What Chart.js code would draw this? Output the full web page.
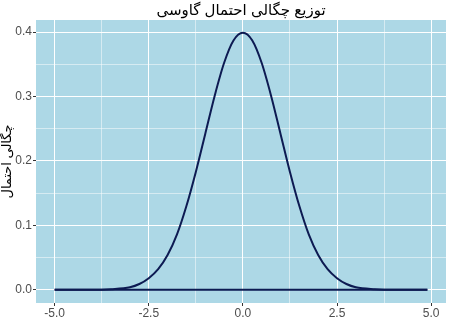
<!DOCTYPE html>
<html>
<head>
<meta charset="utf-8">
<script src="https://cdn.jsdelivr.net/npm/chart.js@4/dist/chart.umd.min.js"></script>
<style>
  html, body { margin: 0; padding: 0; background: #ffffff; }
  #wrap { width: 450px; height: 320px; }
</style>
</head>
<body>
<div id="wrap"><canvas id="myChart" width="450" height="320"></canvas></div>
<script>
// values
const xValues = [-5, -4, -3.5, -3, -2.75, -2.5, -2.25, -2, -1.75, -1.5, -1.25, -1, -0.75, -0.5, -0.25,
  0, 0.25, 0.5, 0.75, 1, 1.25, 1.5, 1.75, 2, 2.25, 2.5, 2.75, 3, 3.5, 4, 4.9];
const densityValues = [0.000, 0.000, 0.001, 0.004, 0.009, 0.018, 0.032, 0.054, 0.086, 0.130, 0.183, 0.242, 0.301, 0.352, 0.387,
  0.399, 0.387, 0.352, 0.301, 0.242, 0.183, 0.130, 0.086, 0.054, 0.032, 0.018, 0.009, 0.004, 0.001, 0.000, 0.000];
// the closing bottom edge of the polygon
const baseX = [-5, 4.9];
const baseY = [0, 0];

const xTicks = [-5, -2.5, 0, 2.5, 5];
const xMinorTicks = [-3.75, -1.25, 1.25, 3.75];
const yTicks = [0, 0.1, 0.2, 0.3, 0.4];
const yMinorTicks = [0.05, 0.15, 0.25, 0.35];

const titleText = "توزیع چگالی احتمال گاوسی";
const yTitleText = "چگالی احتمال";

const lineColor = "#0d1a52";
const fontFamily = "'Liberation Sans', 'DejaVu Sans', Arial, sans-serif";

// panel background like ggplot
const panelBg = {
  id: "panelBg",
  beforeDraw(chart) {
    const { ctx, chartArea } = chart;
    ctx.save();
    ctx.fillStyle = "#add8e6";
    ctx.fillRect(chartArea.left, chartArea.top, chartArea.right - chartArea.left, chartArea.bottom - chartArea.top);
    ctx.restore();
  }
};

function buildTicks(major, minor) {
  return (scale) => {
    const all = major.concat(minor).sort((a, b) => a - b);
    scale.ticks = all.map((v) => ({ value: v, major: major.includes(v) }));
  };
}

function isMajor(ctx, major) {
  return ctx.tick && major.includes(ctx.tick.value);
}

const ctx = document.getElementById("myChart").getContext("2d");
new Chart(ctx, {
  type: "line",
  data: {
    datasets: [
      {
        label: "density",
        data: xValues.map((x, i) => ({ x: x, y: densityValues[i] })),
        borderColor: lineColor,
        borderWidth: 2,
        pointRadius: 0,
        cubicInterpolationMode: "monotone",
        fill: false,
      },
      {
        label: "base",
        data: baseX.map((x, i) => ({ x: x, y: baseY[i] })),
        borderColor: lineColor,
        borderWidth: 2,
        pointRadius: 0,
        fill: false,
      },
    ],
  },
  options: {
    responsive: false,
    animation: false,
    layout: { padding: { top: 0, right: 4, bottom: 0, left: 0 } },
    plugins: {
      legend: { display: false },
      tooltip: { enabled: false },
      title: {
        display: true,
        text: titleText,
        fullSize: false,
        color: "#000000",
        font: { family: fontFamily, size: 15, weight: "normal" },
        padding: { top: 2, bottom: 0 },
      },
    },
    scales: {
      x: {
        type: "linear",
        min: -5.495,
        max: 5.395,
        afterBuildTicks: buildTicks(xTicks, xMinorTicks),
        afterFit: (scale) => { scale.height = 17; },
        border: { display: false },
        grid: {
          color: "#ffffff",
          lineWidth: (c) => (isMajor(c, xTicks) ? 1 : 0.5),
          tickLength: 3,
          tickColor: (c) => (isMajor(c, xTicks) ? "#333333" : "rgba(0,0,0,0)"),
        },
        ticks: {
          autoSkip: false,
          maxRotation: 0,
          padding: 0,
          color: "#4d4d4d",
          font: { family: fontFamily, size: 12 },
          callback: (v) => (xTicks.includes(v) ? v.toFixed(1) : ""),
        },
      },
      y: {
        type: "linear",
        min: -0.0205,
        max: 0.4188,
        afterBuildTicks: buildTicks(yTicks, yMinorTicks),
        afterFit: (scale) => { scale.width = 36; },
        border: { display: false },
        grid: {
          color: "#ffffff",
          lineWidth: (c) => (isMajor(c, yTicks) ? 1 : 0.5),
          tickLength: 3,
          tickColor: (c) => (isMajor(c, yTicks) ? "#333333" : "rgba(0,0,0,0)"),
        },
        ticks: {
          autoSkip: false,
          padding: 1,
          color: "#4d4d4d",
          font: { family: fontFamily, size: 12 },
          callback: (v) => (yTicks.includes(v) ? v.toFixed(1) : ""),
        },
        title: {
          display: true,
          text: yTitleText,
          color: "#000000",
          font: { family: fontFamily, size: 13 },
          padding: { top: 0, bottom: 0 },
        },
      },
    },
  },
  plugins: [panelBg],
});
</script>
</body>
</html>
